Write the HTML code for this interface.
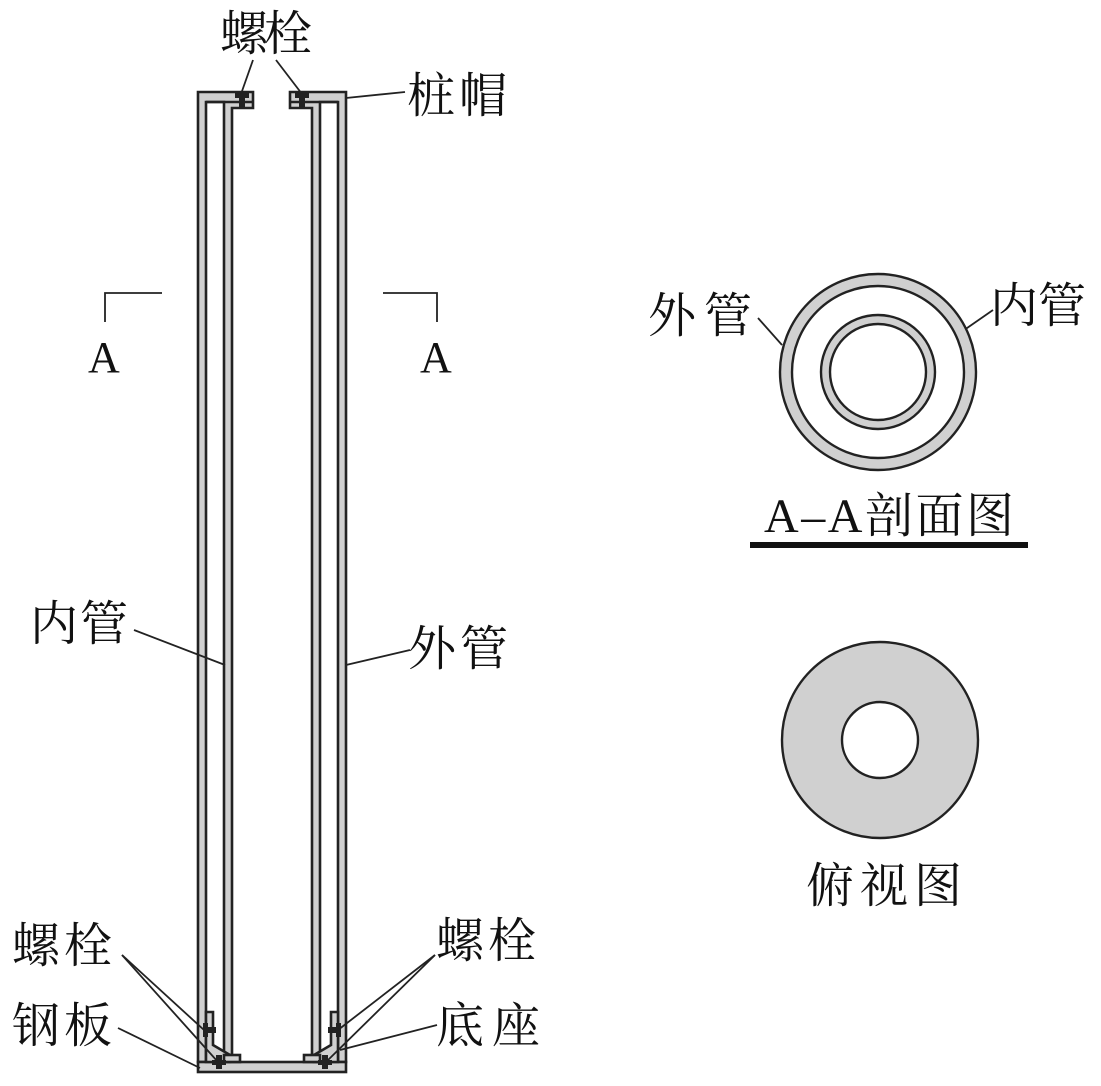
<!DOCTYPE html>
<html><head><meta charset="utf-8"><style>
body{margin:0;background:#fff}
svg text{font-family:"Liberation Serif","Noto Serif CJK SC",serif;fill:#111}
</style></head><body>
<svg width="1101" height="1081" viewBox="0 0 1101 1081" xmlns="http://www.w3.org/2000/svg">
<g stroke="#222" stroke-width="2.6" fill="#d0d0d0">
<path d="M198,92 H253 V108 H232 V1055 H224 V102 H206 V1062 H198 Z"/>
<line x1="206" y1="102" x2="253" y2="102"/>
<path d="M346,92 H290 V108 H312 V1055 H320 V102 H338 V1062 H346 Z"/>
<line x1="338" y1="102" x2="290" y2="102"/>
<rect x="198" y="1062" width="148" height="10"/>
<path d="M206,1012 H213 V1045 L230,1055 V1062 H206 Z"/>
<path d="M338,1012 H331 V1045 L314,1055 V1062 H338 Z"/>
<rect x="224" y="1055" width="16" height="7"/>
<rect x="304" y="1055" width="16" height="7"/>
</g>
<g fill="#222">
<rect x="235" y="93" width="14" height="5"/><rect x="239" y="93" width="6" height="15"/>
<rect x="295" y="93" width="14" height="5"/><rect x="299" y="93" width="6" height="15"/>
<rect x="203" y="1023" width="5" height="14"/><rect x="203" y="1027" width="13" height="6"/>
<rect x="336" y="1023" width="5" height="14"/><rect x="328" y="1027" width="13" height="6"/>
<rect x="212" y="1060" width="14" height="5"/><rect x="216" y="1055" width="6" height="14"/>
<rect x="318" y="1060" width="14" height="5"/><rect x="322" y="1055" width="6" height="14"/>
</g>
<g stroke="#222" stroke-width="1.8" fill="none">
<line x1="253" y1="60" x2="241" y2="94"/><line x1="276" y1="60" x2="302" y2="94"/>
<line x1="346" y1="98" x2="405" y2="92"/>
<line x1="134" y1="630" x2="225" y2="665"/>
<line x1="346" y1="665" x2="410" y2="650"/>
<polyline points="105,322 105,293 162,293"/><polyline points="383,293 437,293 437,322"/>
<line x1="122" y1="955" x2="204" y2="1030"/><line x1="122" y1="955" x2="218" y2="1062"/>
<line x1="118" y1="1028" x2="200" y2="1068"/>
<line x1="435" y1="955" x2="338" y2="1030"/><line x1="435" y1="955" x2="326" y2="1062"/>
<line x1="437" y1="1025" x2="340" y2="1050"/>
<line x1="758" y1="318" x2="782" y2="345"/><line x1="993" y1="310" x2="934" y2="351"/>
</g>
<g stroke="#222" stroke-width="2.4">
<circle cx="878" cy="372" r="98" fill="#d0d0d0"/>
<circle cx="878" cy="372" r="86" fill="#fff"/>
<circle cx="878" cy="372" r="57" fill="#d0d0d0"/>
<circle cx="878" cy="372" r="48" fill="#fff"/>
<circle cx="880" cy="740" r="98" fill="#d0d0d0"/>
<circle cx="880" cy="740" r="38" fill="#fff"/>
</g>
<rect x="750" y="542" width="278" height="6" fill="#111"/>
<g font-size="48">
<text x="220" y="50" textLength="92">螺栓</text>
<text x="407" y="112" textLength="100">桩帽</text>
<text x="30" y="640" textLength="98">内管</text>
<text x="408" y="665" textLength="100">外管</text>
<text x="12" y="962" textLength="100">螺栓</text>
<text x="12" y="1042" textLength="100">钢板</text>
<text x="436" y="957" textLength="100">螺栓</text>
<text x="436" y="1042" textLength="104">底座</text>
<text x="648" y="332" textLength="104">外管</text>
<text x="990" y="322" textLength="96">内管</text>
<text x="764" y="532" textLength="250">A–A剖面图</text>
<text x="806" y="902" textLength="156">俯视图</text>
<text x="88" y="372" font-size="44">A</text>
<text x="420" y="372" font-size="44">A</text>
</g>
</svg>
</body></html>
